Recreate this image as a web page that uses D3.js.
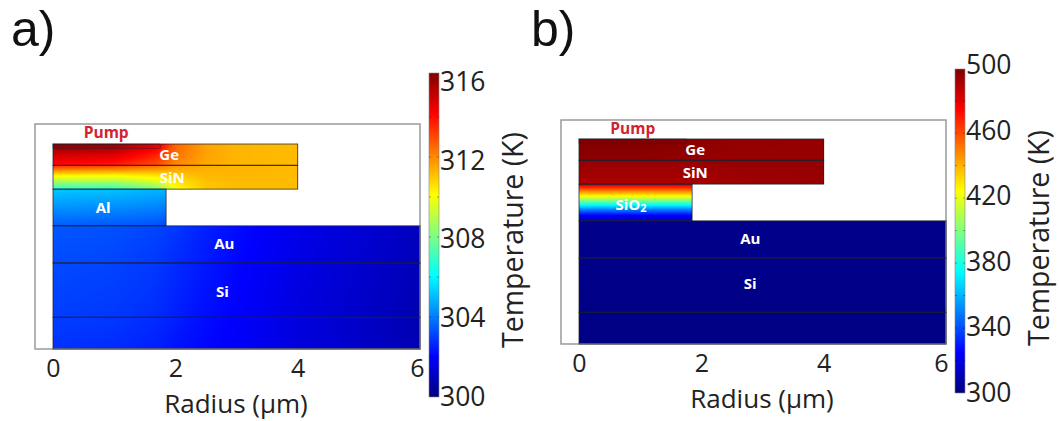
<!DOCTYPE html>
<html><head><meta charset="utf-8">
<script src="https://cdn.jsdelivr.net/npm/d3@7"></script>
<style>html,body{margin:0;padding:0;background:#fff}svg{display:block}text{font-family:"Open Sans",sans-serif}</style>
</head><body><svg id="c" width="1059" height="421"></svg>
<script>
// ---- data ----
const xTicks = [0, 2, 4, 6];
const barTicksA = [300, 304, 308, 312, 316];
const barMinorA = [302, 304, 306, 308, 310, 312, 314];
const barTicksB = [300, 340, 380, 420, 460, 500];
const barMinorB = [320, 340, 360, 380, 400, 420, 440, 460, 480];
const jetStops = ["#000080","#0000ff","#00ffff","#ffff00","#ff0000","#800000"];
const jetPos = [0, 0.125, 0.375, 0.625, 0.875, 1];

const layerNames = ["Ge","SiN","Spacer","Au","Si","Base"];
const layerREnd = [4, 4, 1.85, 6, 6, 6];
const layerTop = [0, 0.35, 0.74, 1.34, 1.95, 2.84];
const layerBottom = [0.35, 0.74, 1.34, 1.95, 2.84, 3.36];
const pumpREnd = 1.75, pumpDepth = 0.07;

const radiiGrid = [0, 1, 1.7, 2, 2.5, 3, 4, 6];
const depthGridA = [0, 0.17, 0.35, 0.36, 0.5, 0.62, 0.74, 0.75, 1.34, 1.36, 1.95, 2.84, 3.36];
const tempsA = [
 [316.2,315.9,314.6,312.6,311.6,311.3,311.2,311.2],
 [315.0,314.8,313.7,312.4,311.6,311.3,311.2,311.2],
 [314.0,313.7,312.9,312.0,311.5,311.3,311.2,311.2],
 [313.4,313.1,312.4,311.8,311.4,311.3,311.2,311.2],
 [310.6,310.5,310.7,311.1,311.3,311.3,311.2,311.2],
 [308.6,308.7,309.5,310.5,311.1,311.2,311.2,311.2],
 [306.7,306.8,308.0,310.0,311.0,311.2,311.2,311.2],
 [305.2,305.1,304.9,304.9,311.0,311.2,311.2,311.2],
 [303.5,303.4,303.3,303.0,302.6,302.3,301.8,301.0],
 [303.4,303.3,303.1,302.9,302.5,302.2,301.7,301.0],
 [303.2,303.1,302.9,302.7,302.4,302.1,301.6,300.9],
 [303.0,302.9,302.7,302.5,302.2,302.0,301.5,300.8],
 [302.8,302.7,302.5,302.3,302.1,301.9,301.5,300.8]
];
const depthGridB = [0, 0.35, 0.36, 0.74, 0.75, 0.85, 0.95, 1.05, 1.15, 1.25, 1.34, 1.36, 3.36];
const tempsB = [
 [499,499,498,497,496,496,495,495],
 [497,497,496,495,495,495,495,495],
 [495,495,495,495,495,495,495,495],
 [491,491,491,492,493,494,495,495],
 [480,480,480,480,480,480,480,480],
 [450,450,450,450,450,450,450,450],
 [420,420,420,420,420,420,420,420],
 [385,385,385,385,385,385,385,385],
 [352,352,352,352,352,352,352,352],
 [325,325,325,325,325,325,325,325],
 [312,312,312,312,312,312,312,312],
 [302,302,302,302,302,302,302,302],
 [301,301,301,301,301,301,301,301]
];

const labelsA = [["Ge",1.9,0.18],["SiN",1.95,0.55],["Al",0.82,1.04],["Au",2.8,1.64],["Si",2.77,2.42]];
const labelsB = [["Ge",1.9,0.18],["SiN",1.9,0.55],["SiO",0.85,1.08],["Au",2.8,1.64],["Si",2.8,2.37]];

// ---- drawing ----
const svg = d3.select("#c");
const jetT = d3.scaleLinear().domain(jetPos).range(jetStops).clamp(true);

function field(rad, dep, grid, r, d) {
  const ri = d3.scaleLinear().domain(rad).range(d3.range(rad.length)).clamp(true)(r);
  const di = d3.scaleLinear().domain(dep).range(d3.range(dep.length)).clamp(true)(d);
  const r0 = Math.min(Math.floor(ri), rad.length - 2), d0 = Math.min(Math.floor(di), dep.length - 2);
  const a = ri - r0, b = di - d0;
  return (grid[d0][r0]*(1-a)+grid[d0][r0+1]*a)*(1-b)+(grid[d0+1][r0]*(1-a)+grid[d0+1][r0+1]*a)*b;
}

function panel(o) {
  const x = d3.scaleLinear().domain([0, 6]).range([o.x0, o.x0 + 367]);
  const y = d3.scaleLinear().domain([0, 3.36]).range([o.y0, o.y0 + 205]);
  const tn = d3.scaleLinear().domain(o.tDomain).range([0, 1]);
  const W = 367, H = 205;
  const cv = document.createElement("canvas"); cv.width = W; cv.height = H;
  const ctx = cv.getContext("2d");
  layerNames.forEach((n, i) => {
    const xa = Math.round(x(0)), xb = Math.round(x(layerREnd[i]));
    const ya = Math.round(y(layerTop[i])), yb = Math.round(y(layerBottom[i]));
    for (let py = ya; py < yb; py++) for (let px = xa; px < xb; px++) {
      const t = field(radiiGrid, o.depths, o.temps, x.invert(px + .5), y.invert(py + .5));
      ctx.fillStyle = jetT(tn(t));
      ctx.fillRect(px - o.x0, py - o.y0, 1, 1);
    }
  });
  svg.append("image").attr("x", o.x0).attr("y", o.y0).attr("width", W).attr("height", H)
    .attr("href", cv.toDataURL()).style("filter", "blur(0.5px)");

  // frame
  svg.append("rect").attr("x", o.x0 - 18).attr("y", o.frameTop).attr("width", 385)
    .attr("height", y(3.36) - o.frameTop).attr("fill", "none").attr("stroke", "#9a9a9a").attr("stroke-width", 1.5);

  // layer outlines
  svg.append("g").selectAll("rect").data(layerNames).join("rect")
    .attr("x", x(0)).attr("y", (d, i) => y(layerTop[i]))
    .attr("width", (d, i) => x(layerREnd[i]) - x(0))
    .attr("height", (d, i) => y(layerBottom[i]) - y(layerTop[i]))
    .attr("fill", "none").attr("stroke", "#1c2230").attr("stroke-opacity", .75).attr("stroke-width", 1);
  svg.append("rect").attr("x", x(0)).attr("y", y(0)).attr("width", x(pumpREnd) - x(0)).attr("height", y(pumpDepth) - y(0))
    .attr("fill", "none").attr("stroke", "#1c2230").attr("stroke-opacity", .6).attr("stroke-width", .8);

  // labels
  o.labels.forEach(l => {
    const t = svg.append("text").attr("x", x(l[1])).attr("y", y(l[2])).attr("dy", ".35em")
      .attr("text-anchor", "middle").attr("fill", "#fff").attr("font-size", 15).attr("font-weight", 700).text(l[0]);
    if (l[0] === "SiO") t.append("tspan").attr("font-size", 11).attr("dy", 2).text("2");
  });
  svg.append("text").attr("x", x(o.pumpR)).attr("y", o.frameTop + 9).attr("dy", ".35em").attr("text-anchor", "middle")
    .attr("fill", "#d2232f").attr("font-size", 15.5).attr("font-weight", 700).text("Pump");

  // x axis
  const ax = svg.append("g").attr("transform", `translate(0,${y(3.36) + 10})`)
    .call(d3.axisBottom(x).tickValues(xTicks).tickSize(0).tickPadding(0).tickFormat(d3.format("d")));
  ax.select(".domain").remove();
  ax.selectAll("text").attr("font-size", 25).attr("fill", "#222").style("font-family", '"Open Sans",sans-serif');
  ax.selectAll("g.tick").filter(d => d === 6).select("text").attr("x", o.lastTickShift);
  svg.append("text").attr("x", x(0) + 183).attr("y", y(3.36) + 64).attr("text-anchor", "middle")
    .attr("font-size", 26).attr("fill", "#222").text("Radius (µm)");

  // colour bar
  const id = "g" + o.name;
  const bs = d3.scaleLinear().domain(o.tDomain).range([o.barBottom, o.barTop]);
  const ls = d3.scaleLinear().domain(o.labelDomain).range(o.labelRange);
  const grad = svg.append("defs").append("linearGradient").attr("id", id).attr("x1", 0).attr("x2", 0).attr("y1", 1).attr("y2", 0);
  grad.selectAll("stop").data(jetPos).join("stop").attr("offset", d => d).attr("stop-color", (d, i) => jetStops[i]);
  svg.append("rect").attr("x", o.barX).attr("y", o.barTop).attr("width", 10).attr("height", o.barBottom - o.barTop)
    .attr("fill", `url(#${id})`).attr("stroke", "#888").attr("stroke-width", .6);
  const ba = svg.append("g").attr("transform", `translate(${o.barX + 10},0)`)
    .call(d3.axisRight(ls).tickValues(o.ticks).tickSize(0).tickPadding(1).tickFormat(d3.format("d")));
  ba.select(".domain").remove();
  ba.selectAll("text").attr("font-size", 26.5).attr("fill", "#222").style("font-family", '"Open Sans",sans-serif');
  svg.append("g").selectAll("line").data(o.minor).join("line")
    .attr("x1", o.barX).attr("x2", o.barX + 10).attr("y1", d => bs(d)).attr("y2", d => bs(d))
    .attr("stroke", "#000").attr("stroke-opacity", .3).attr("stroke-dasharray", "2 6 2");
  svg.append("text").attr("transform", `translate(${o.barX + 94},${o.titleY}) rotate(-90)`)
    .attr("text-anchor", "middle").attr("font-size", 28.5).attr("fill", "#222").text("Temperature (K)");

  svg.append("text").attr("x", o.panelX).attr("y", 46).attr("font-size", 50).attr("fill", "#111")
    .style("font-family", '"Liberation Sans",sans-serif').text(o.name + ")");
}

panel({name:"a", x0:53, y0:144, frameTop:124, tDomain:[300,316.2], labelDomain:[300,316], labelRange:[397,82], depths:depthGridA, temps:tempsA, labels:labelsA, pumpR:0.87, lastTickShift:-3,
  barX:429, barTop:73, barBottom:397, ticks:barTicksA, minor:barMinorA, titleY:240, panelX:11});
panel({name:"b", x0:579, y0:139, frameTop:120, tDomain:[300,499.5], labelDomain:[300,500], labelRange:[393,65], depths:depthGridB, temps:tempsB, labels:labelsB, pumpR:0.88, lastTickShift:-5,
  barX:955, barTop:69, barBottom:393, ticks:barTicksB, minor:barMinorB, titleY:238, panelX:531});
</script></body></html>
